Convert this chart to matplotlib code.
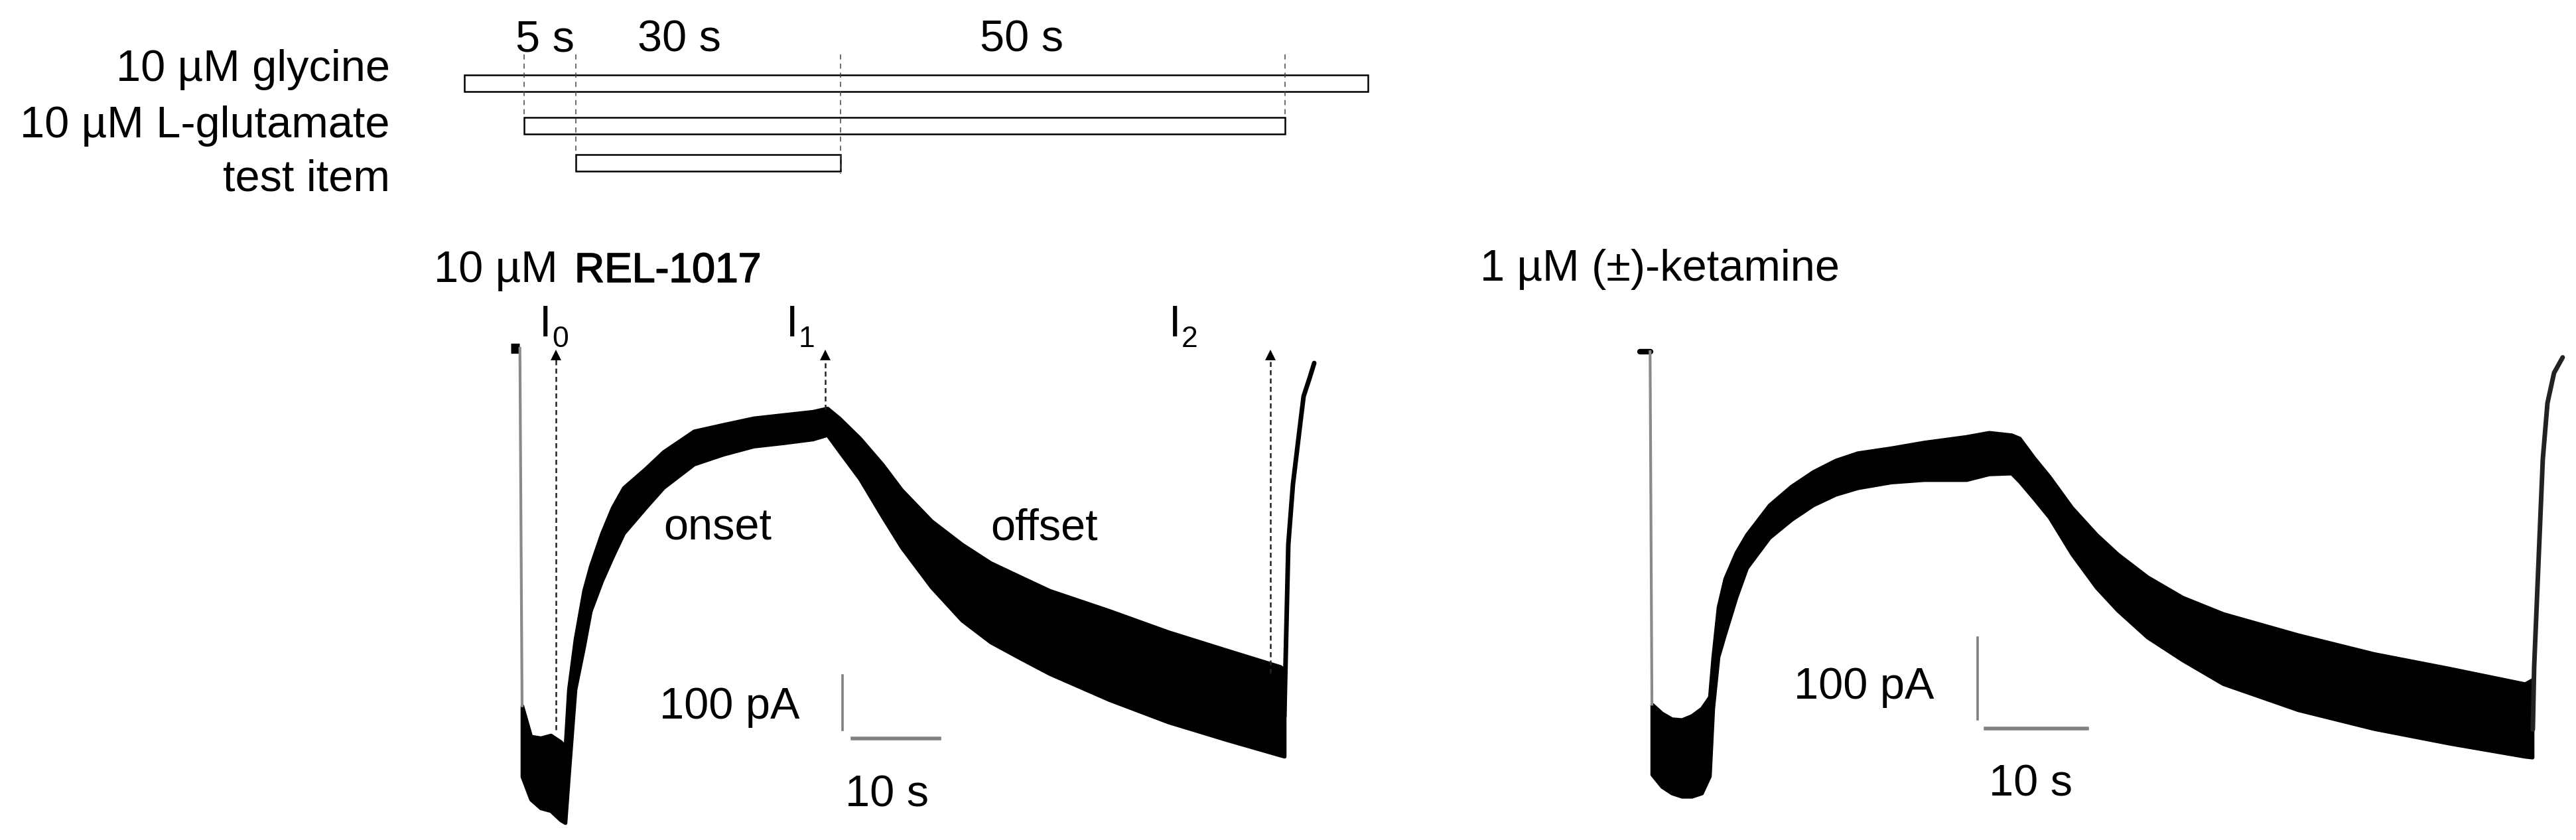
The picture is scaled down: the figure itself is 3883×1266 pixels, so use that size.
import matplotlib.pyplot as plt
import matplotlib.patheffects as pe

W, H = 3883, 1266

# perfusion protocol (s, t = 0 at L-glutamate onset)
protocol_labels = ["10 µM glycine", "10 µM L-glutamate", "test item"]
protocol_on = [-6.7, 0.0, 5.8]
protocol_off = [94.9, 85.6, 35.6]
interval_labels = ["5 s", "30 s", "50 s"]
switch_times = [0.0, 5.8, 35.6, 85.6]

# 10 µM REL-1017 trace: time (s), noise band upper / lower edge (pA)
rel_t = [0.15, 1.15, 2.29, 3.44, 4.58, 5.11, 5.50, 6.26, 7.25, 8.02, 9.31, 10.53,
         11.83, 14.35, 16.41, 19.92, 23.28, 26.79, 30.15, 33.59, 35.27, 36.64,
         39.01, 41.60, 43.82, 47.25, 50.76, 54.05, 57.63, 60.84, 67.71, 74.50,
         81.30, 87.40, 87.86]
rel_upper = [-657, -713, -716, -711, -723, -732, -627, -534, -445, -400, -340, -293,
             -256, -221, -190, -152, -140, -128, -122, -116, -110, -128,
             -165, -213, -260, -317, -360, -394, -421, -445, -482, -521,
             -555, -585, -591]
rel_lower = [-787, -829, -845, -850, -867, -872, -787, -627, -549, -483, -428, -384,
             -340, -293, -256, -213, -195, -180, -174, -167, -159, -189,
             -240, -309, -366, -439, -500, -540, -571, -598, -646, -687,
             -720, -748, -750]
rel_rec_t = [87.86, 88.09, 88.32, 88.85, 89.77, 90.08, 90.76, 91.30]
rel_rec_i = [-677, -518, -360, -250, -128, -88, -55, -27]

# 1 µM (±)-ketamine trace
ket_t = [0.20, 1.18, 2.16, 3.14, 4.12, 5.10, 5.88, 6.21, 6.73, 7.39, 8.50, 9.54,
         11.76, 13.92, 16.08, 18.30, 20.46, 23.73, 26.99, 31.18, 33.40, 35.62,
         36.41, 37.84, 39.35, 41.57, 43.99, 46.08, 49.02, 52.48, 56.47, 63.86,
         71.31, 78.76, 86.21, 86.93]
ket_upper = [-432, -443, -450, -451, -446, -437, -423, -374, -313, -278, -246, -224,
             -188, -165, -147, -133, -124, -118, -111, -104, -99, -102,
             -106, -130, -153, -191, -224, -248, -276, -301, -321, -347,
             -370, -388, -407, -402]
ket_lower = [-518, -533, -541, -545, -545, -541, -520, -437, -374, -346, -301, -265,
             -228, -206, -188, -175, -167, -160, -157, -157, -150, -149,
             -159, -180, -203, -248, -289, -317, -350, -378, -407, -439,
             -462, -480, -496, -497]
ket_rec_t = [86.99, 87.12, 87.58, 87.97, 88.43, 89.08, 89.93]
ket_rec_i = [-463, -386, -248, -132, -63, -26, -7]

# I0, I1, I2 read-out points (s) and the current where each arrow starts (pA)
readout_t = [4.05, 35.04, 86.26]
readout_i = [-701, -112, -598]
readout_names = ["0", "1", "2"]

scale_t = 10     # s
scale_i = 100    # pA

plt.rcParams["font.family"] = ["Liberation Sans", "DejaVu Sans"]
fig = plt.figure(figsize=(W / 100, H / 100), dpi=100)


def px_axes(x0, y0, x1, y1):
    ax = fig.add_axes([x0 / W, 1 - y1 / H, (x1 - x0) / W, (y1 - y0) / H])
    ax.set_axis_off()
    return ax


def label(x, y, s, size=48, ha="left", **kw):
    return fig.text(x / W, 1 - y / H, s, fontsize=size, ha=ha, va="baseline", **kw)


def trace_axes(box, x0, y0, px_s, px_pa):
    # box in pixels, (x0, y0) = pixel of t=0 / 0 pA
    ax = px_axes(*box)
    ax.set_xlim((box[0] - x0) / px_s, (box[2] - x0) / px_s)
    ax.set_ylim((y0 - box[3]) / px_pa, (y0 - box[1]) / px_pa)
    return ax


def noisy_band(ax, t, upper, lower):
    ax.fill_between(t, upper, lower, facecolor="black", edgecolor="black",
                    linewidth=4, joinstyle="round")


# ---- protocol schematic ----
axp = px_axes(600, 0, 2100, 330)
axp.set_xlim((600 - 790) / 13.4, (2100 - 790) / 13.4)
axp.set_ylim(330, 0)
row_y = [125.5, 189, 245.5]
for on, off, y in zip(protocol_on, protocol_off, row_y):
    axp.barh(y, off - on, left=on, height=25, facecolor="white",
             edgecolor="black", linewidth=1.8, zorder=2)
for t, y_end in zip(switch_times, [176, 233, 262, 176]):
    axp.plot([t, t], [82, y_end], color="#444444", lw=1.1, ls=(0, (5, 4)), zorder=3)

for s, y in zip(protocol_labels, [122, 207, 288]):
    label(588, y, s, ha="right")
for s, x in zip(interval_labels, [777, 961, 1477]):
    label(x, 77, s)

# ---- REL-1017 trace ----
axl = trace_axes((700, 330, 2000, 1266), 785, 525, 13.1, 0.82)
axl.plot([-1.15, -0.15], [0, 0], color="black", lw=11, solid_capstyle="butt")
axl.plot([-0.1, 0.15], [0, -657], color="#8a8a8a", lw=3)
noisy_band(axl, rel_t, rel_upper, rel_lower)
axl.plot(rel_rec_t, rel_rec_i, color="black", lw=5, solid_capstyle="round")

for t, i in zip(readout_t, readout_i):
    axl.plot([t, t], [i, -20], color="#222222", lw=1.8, ls=(0, (3, 2)))
    axl.plot(t, -12, marker="^", ms=11, color="black", mew=0)

# scale bar
axl.plot([37.0, 37.0], [-601, -601 - scale_i], color="#808080", lw=2.6)
axl.plot([38.2, 38.2 + scale_t], [-717, -717], color="#808080", lw=4)

label(654, 425, "10 µM")
rel = label(866, 425, "REL-1017", size=45)
rel.set_path_effects([pe.withStroke(linewidth=1.2, foreground="black")])
for x, n in zip([813, 1185, 1762], readout_names):
    label(x, 507, "I")
    label(x + 19, 523, n, size=32)
label(1000, 813, "onset")
label(1493, 813, "offset")
label(1205, 1083, f"{scale_i} pA", ha="right")
label(1274, 1215, f"{scale_t} s")

# ---- ketamine trace ----
axr = trace_axes((2400, 330, 3883, 1266), 2487, 530, 15.3, 1.23)
axr.plot([-0.98, 0.05], [0, 0], color="black", lw=6, solid_capstyle="round")
axr.plot([0.02, 0.2], [0, -432], color="#8a8a8a", lw=3)
noisy_band(axr, ket_t, ket_upper, ket_lower)
axr.plot(ket_rec_t, ket_rec_i, color="#222222", lw=5, solid_capstyle="round")

axr.plot([32.3, 32.3], [-350, -350 - scale_i], color="#808080", lw=2.6)
axr.plot([33.1, 33.1 + scale_t], [-462, -462], color="#808080", lw=4)

label(2231, 423, "1 µM (±)-ketamine")
label(2916, 1053, f"{scale_i} pA", ha="right")
label(2998, 1200, f"{scale_t} s")

fig.savefig("out.png", dpi=100)
